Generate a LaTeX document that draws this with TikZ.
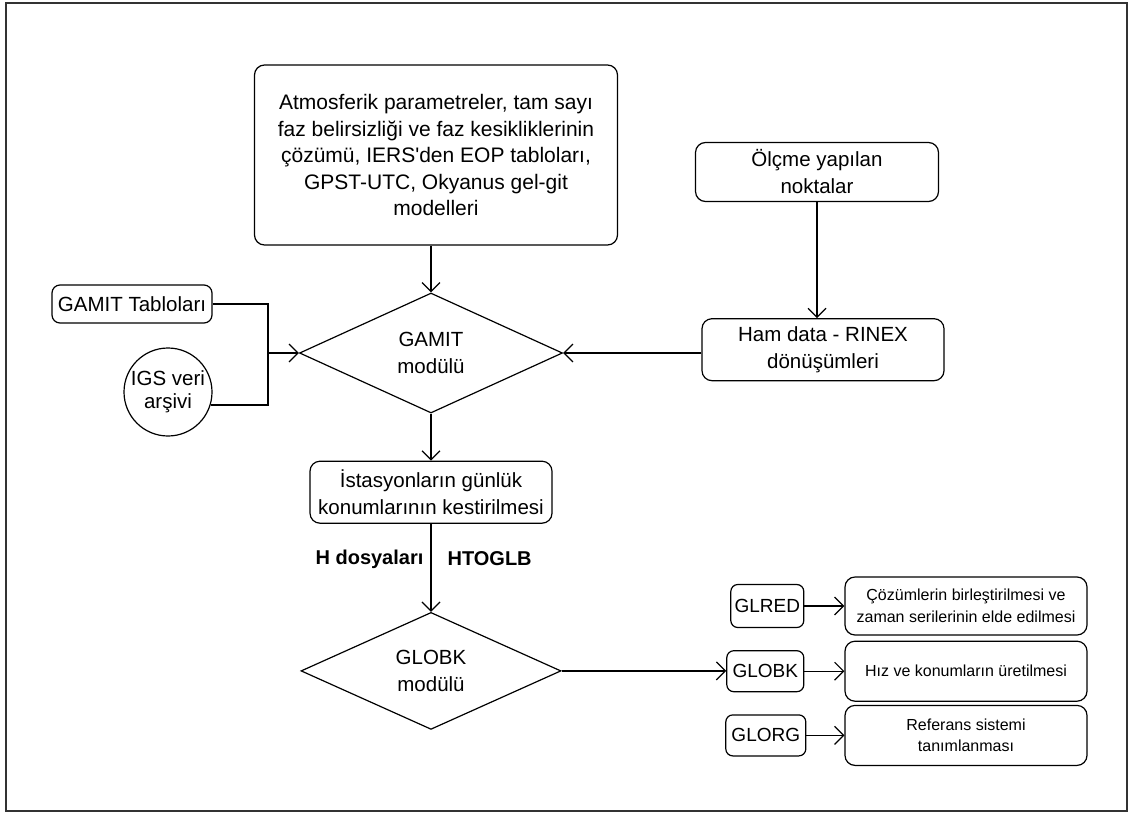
\documentclass[tikz,border=0pt]{standalone}
\usepackage{fontspec}
\setmainfont{Liberation Sans}
\usepackage{tikz}
\usetikzlibrary{shapes.geometric, arrows.meta, positioning}

\begin{document}
\begin{tikzpicture}[
    x=1pt, y=-1pt,
    node distance=40pt and 40pt,
    box/.style={draw, rectangle, rounded corners=10pt, line width=1.2pt, inner sep=0pt, align=center, font=\fontsize{20.5}{27}\selectfont},
    decision/.style={draw, diamond, line width=1.2pt, inner sep=0pt, align=center, font=\fontsize{20.5}{27}\selectfont},
    tag/.style={draw, rectangle, rounded corners=7pt, line width=1.2pt, inner sep=0pt, minimum height=41pt, font=\fontsize{19}{22}\selectfont},
    result/.style={draw, rectangle, rounded corners=10pt, line width=1.2pt, inner sep=0pt, align=center, minimum width=242pt, minimum height=60pt, font=\fontsize{16}{21.5}\selectfont},
    arrow/.style={line width=1.2pt, ->, >={Straight Barb[length=9pt, width=18pt]}}
]
\useasboundingbox (0,0) rectangle (1129,814);
\draw[line width=2pt, black!80] (6,3) rectangle (1127,811);

\node[box, minimum width=363pt, minimum height=180pt, font=\fontsize{21}{26.5}\selectfont] (atmo) at (436,155) {Atmosferik parametreler, tam sayı\\faz belirsizliği ve faz kesikliklerinin\\çözümü, IERS\textquotesingle den EOP tabloları,\\GPST-UTC, Okyanus gel-git\\modelleri};
\node[decision, minimum width=263pt, minimum height=120pt] (gamit) at (431,353) {GAMIT\\modülü};
\node[box, minimum width=243pt, minimum height=59pt] (olcme) at (817,172) {Ölçme yapılan\\noktalar};
\node[box, minimum width=242pt, minimum height=62pt, below=116pt of olcme, xshift=6pt] (ham) {Ham data - RINEX\\dönüşümleri};
\node[box, minimum width=160pt, minimum height=38pt, rounded corners=8pt] (tablo) at (132,304) {GAMIT Tabloları};
\node[draw, circle, line width=1.2pt, inner sep=0pt, minimum size=88pt, align=center, font=\fontsize{20.5}{23}\selectfont] (igs) at (168,392) {IGS veri\\arşivi};
\node[box, minimum width=242pt, minimum height=62pt, below=47pt of gamit] (ist) {İstasyonların günlük\\konumlarının kestirilmesi};
\node[decision, minimum width=260pt, minimum height=117pt, below=88pt of ist] (globk) {GLOBK\\modülü};

\node[result, minimum height=58pt] (cozum) at (966,606) {Çözümlerin birleştirilmesi ve\\zaman serilerinin elde edilmesi};
\node[result, below=5pt of cozum] (hiz) {Hız ve konumların üretilmesi};
\node[result, below=3pt of hiz] (referans) {Referans sistemi\\tanımlanması};
\node[tag, minimum width=73pt, minimum height=43pt, left=40pt of cozum] (glred) {GLRED};
\node[tag, minimum width=77pt, left=40pt of hiz] (glbk) {GLOBK};
\node[tag, minimum width=80pt, left=38pt of referans] (glorg) {GLORG};

\coordinate (join) at (268,353);

\draw[arrow] (atmo.south -| gamit.north) -- (gamit.north);
\draw[arrow] (olcme.south) -- (olcme.south |- ham.north);
\draw[arrow] (gamit.east -| ham.west) -- (gamit.east);
\draw[line width=1.2pt] (tablo.east) -| (join) |- (igs.-17);
\draw[arrow] (join) -- (gamit.west);
\draw[arrow] (gamit.south) -- (gamit.south |- ist.north);
\draw[arrow] (ist.south) -- node[pos=0.4, left=7pt, inner sep=0pt, font=\fontsize{20}{24}\bfseries] (hdos) {H dosyaları} node[pos=0.4, right=16pt, inner sep=0pt, font=\fontsize{20}{24}\bfseries] (htoglb) {HTOGLB} (globk.north);
\draw[arrow] (globk.east) -- (globk.east -| glbk.west);
\draw[arrow] (glred.east) -- (glred.east -| cozum.west);
\draw[arrow] (glbk.east) -- (glbk.east -| hiz.west);
\draw[arrow] (glorg.east) -- (glorg.east -| referans.west);

\end{tikzpicture}
\end{document}
